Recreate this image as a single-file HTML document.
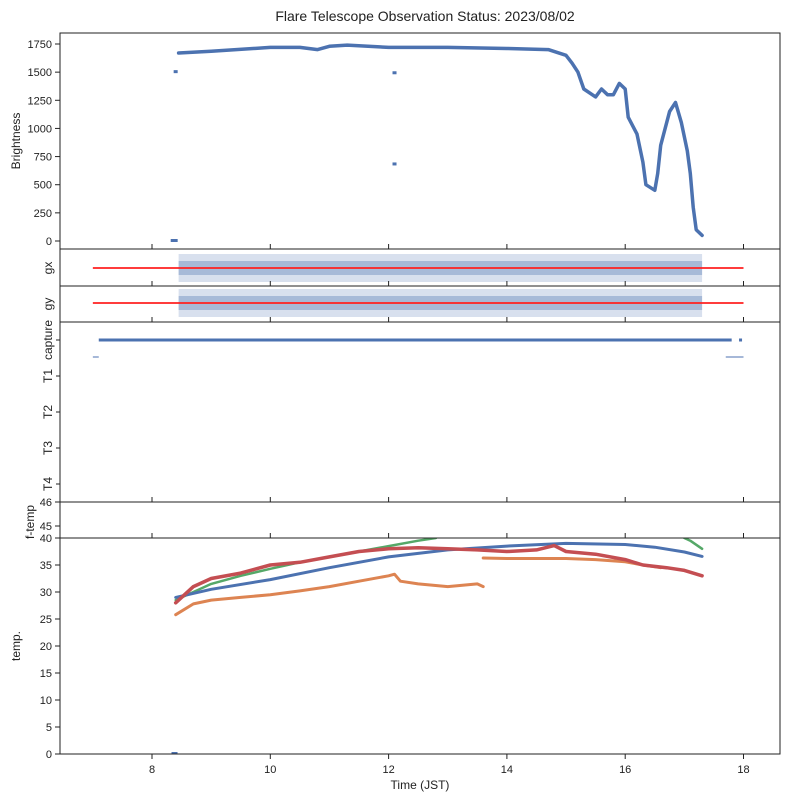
<!DOCTYPE html>
<html><head><meta charset="utf-8"><style>
body{margin:0;background:#fff;font-family:"Liberation Sans","DejaVu Sans",sans-serif}
svg text{font-family:"Liberation Sans","DejaVu Sans",sans-serif;fill:#222}
</style></head><body>
<svg id="c" width="789" height="798" xmlns="http://www.w3.org/2000/svg">
<text x="425" y="21" text-anchor="middle" font-size="14">Flare Telescope Observation Status: 2023/08/02</text>
</svg>
<script>
const xTicks=[8,10,12,14,16,18];
const brightT=[8.45,9,10,10.5,10.8,11,11.3,12,13,14,14.7,15,15.1,15.2,15.3,15.5,15.6,15.7,15.8,15.9,16.0,16.05,16.2,16.3,16.35,16.5,16.55,16.6,16.75,16.85,16.95,17.05,17.1,17.15,17.2,17.3];
const brightV=[1670,1685,1720,1720,1700,1730,1740,1720,1720,1710,1700,1650,1580,1500,1350,1280,1350,1300,1300,1400,1350,1100,950,700,500,450,600,850,1150,1230,1050,800,600,300,100,50];
const brightOutT=[8.4,12.1,12.1,8.35,8.4];
const brightOutV=[1500,1490,680,0,0];
const brightTicks=[0,250,500,750,1000,1250,1500,1750];
const tempTicks=[0,5,10,15,20,25,30,35,40];
const blueT=[8.4,9,10,11,12,13,14,15,16,16.5,17,17.3];
const blueV=[29,30.5,32.3,34.5,36.5,37.8,38.5,39,38.8,38.3,37.4,36.6];
const redT=[8.4,8.7,9,9.5,10,10.5,11,11.5,12,12.5,13,13.5,14,14.5,14.8,15,15.5,16,16.3,16.7,17,17.3];
const redV=[28,31,32.5,33.5,35,35.5,36.5,37.5,38,38.2,38,37.8,37.5,37.8,38.6,37.5,37,36,35,34.5,34,33];
const orangeT1=[8.4,8.7,9,9.5,10,10.5,11,11.5,12,12.1,12.2,12.5,13,13.5,13.6];
const orangeV1=[25.8,27.8,28.5,29,29.5,30.2,31,32,33,33.3,32,31.5,31,31.5,31];
const orangeT2=[13.6,14,14.5,15,15.5,16,16.3,16.6];
const orangeV2=[36.3,36.2,36.2,36.2,36,35.6,35,34.5];
const greenT=[8.4,9,9.5,10,10.5,11,11.5,12,12.5,12.8];
const greenV=[28.5,31.5,33,34.3,35.5,36.5,37.5,38.5,39.5,40];
const green2T=[17,17.1,17.3];
const green2V=[40,39.5,38];
const gxT=[8.45,17.3];

const S=document.getElementById('c');
const NS='http://www.w3.org/2000/svg';
const L=60,R=780;
const X=t=>152+(t-8)*59.15;
function el(tag,a,txt){const e=document.createElementNS(NS,tag);for(const k in a)e.setAttribute(k,a[k]);if(txt!==undefined)e.textContent=txt;S.appendChild(e);return e;}
const panels=[[33,249],[249,286],[286,322],[322,502],[502,538],[538,754]];
const yB=v=>241-v*197/1750;
const yT=v=>754-v*5.4;
function poly(ts,vs,yf,color,w,name){
  const d=ts.map((t,i)=>(i?'L':'M')+X(t).toFixed(1)+' '+yf(vs[i]).toFixed(1)).join(' ');
  const p=el('path',{d:d,fill:'none',stroke:color,'stroke-width':w,'stroke-linejoin':'round','stroke-linecap':'round'});
  
  
}
poly(brightT,brightV,yB,'#4c72b0',3.5,'brightness-series');
brightOutT.forEach((t,i)=>{const c=el('rect',{x:X(t)-2,y:yB(brightOutV[i])-2,width:4,height:3,fill:'#4c72b0'});

});
[[268,'gx'],[303,'gy']].forEach(([cy,n])=>{
  const b=el('rect',{x:X(gxT[0]),y:cy-14,width:X(gxT[1])-X(gxT[0]),height:28,fill:'#4c72b0',opacity:0.22});
  
  
  const b2=el('rect',{x:X(gxT[0]),y:cy-7,width:X(gxT[1])-X(gxT[0]),height:14,fill:'#4c72b0',opacity:0.35});
  
  
  const r=el('line',{x1:X(7),x2:X(18),y1:cy,y2:cy,stroke:'#ff2020','stroke-width':1.8});
  
  
});
const cap=el('line',{x1:X(7.1),x2:X(17.8),y1:340,y2:340,stroke:'#4c72b0','stroke-width':3});


el('line',{x1:X(7),x2:X(7.1),y1:357,y2:357,stroke:'#4c72b0','stroke-width':1});
el('line',{x1:X(17.7),x2:X(18),y1:357,y2:357,stroke:'#4c72b0','stroke-width':1});
el('rect',{x:X(17.95)-1.5,y:338.5,width:3,height:3,fill:'#4c72b0'});
poly(greenT,greenV,yT,'#55a868',2.5,'temp-green');
poly(green2T,green2V,yT,'#55a868',2.5,'temp-green-late');
poly(orangeT1,orangeV1,yT,'#dd8452',3,'temp-orange');
poly(orangeT2,orangeV2,yT,'#dd8452',3,'temp-orange-late');
poly(blueT,blueV,yT,'#4c72b0',3,'temp-blue');
poly(redT,redV,yT,'#c44e52',3.5,'temp-red');
el('rect',{x:X(8.33),y:752,width:6,height:2,fill:'#4c72b0'});
el('rect',{x:L+1,y:503,width:R-L-2,height:34.5,fill:'#fff'});
panels.forEach(([a,b],i)=>{const r=el('rect',{x:L,y:a,width:R-L,height:b-a,fill:'none',stroke:'#222','stroke-width':1});


xTicks.forEach(t=>{ if(i<5) el('line',{x1:X(t),x2:X(t),y1:b,y2:b-5,stroke:'#222'}); });});
xTicks.forEach(t=>{el('line',{x1:X(t),x2:X(t),y1:754,y2:759,stroke:'#222'});
const tx=el('text',{x:X(t),y:773,'text-anchor':'middle','font-size':11},t);

});
function yt(y,lab){el('line',{x1:L,x2:L-5,y1:y,y2:y,stroke:'#222'});
const tx=el('text',{x:L-8,y:y+4,'text-anchor':'end','font-size':11},lab);

}
brightTicks.forEach(v=>yt(yB(v),v));
tempTicks.forEach(v=>yt(yT(v),v));
yt(502,46);yt(526,45);
function rl(x,y,t,n){const tx=el('text',{x:x,y:y,'text-anchor':'middle','font-size':12,transform:`rotate(-90 ${x} ${y})`},t);

}
rl(20,141,'Brightness','y-axis-title-brightness');
rl(52,268,'gx','y-axis-title-gx');
rl(52,304,'gy','y-axis-title-gy');
[[340,'capture'],[376,'T1'],[412,'T2'],[448,'T3'],[484,'T4']].forEach(([y,t])=>{el('line',{x1:L,x2:L-4,y1:y,y2:y,stroke:'#222'});rl(52,y,t,'y-label-'+t.toLowerCase());});
rl(34,522,'f-temp','y-axis-title-ftemp');
rl(20,646,'temp.','y-axis-title-temp');
const xl=el('text',{x:420,y:789,'text-anchor':'middle','font-size':12},'Time (JST)');


</script>
</body></html>
